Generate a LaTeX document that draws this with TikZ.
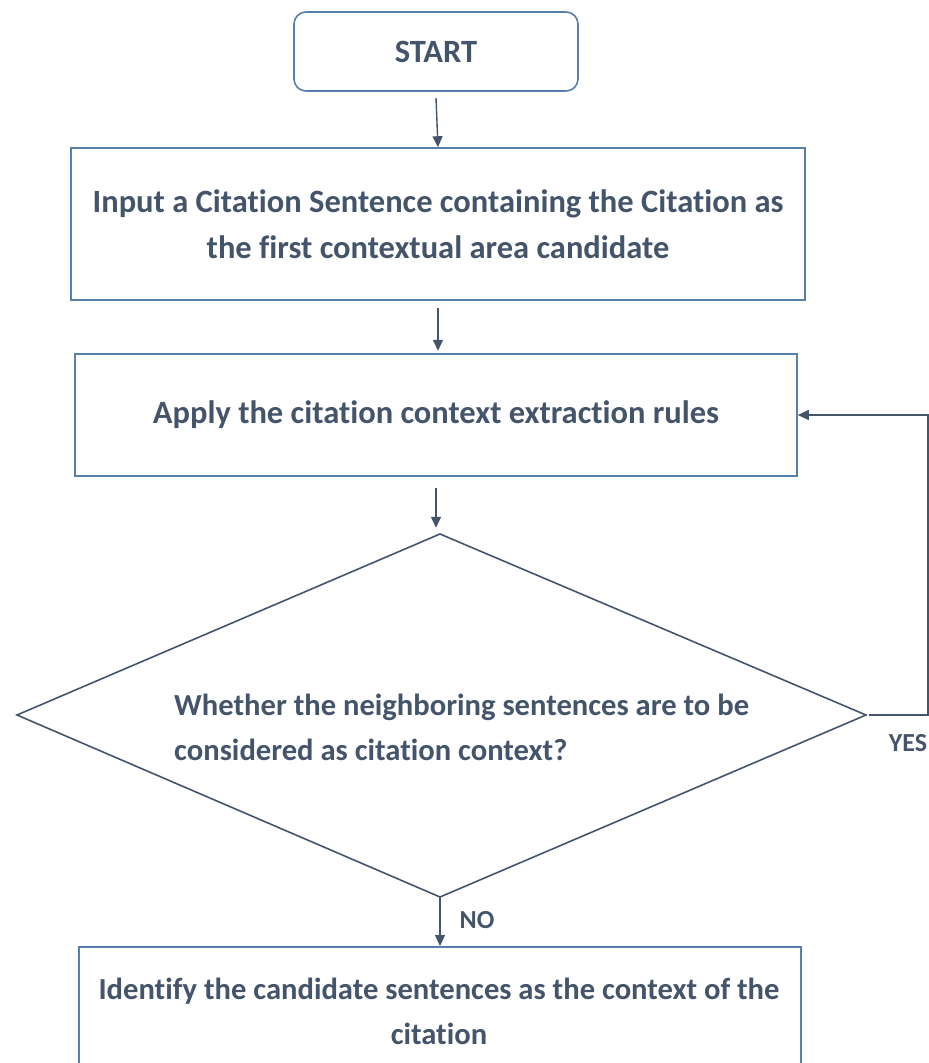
\documentclass[tikz,border=0pt]{standalone}
\usepackage{fontspec}
\setmainfont[Ligatures=NoCommon]{Carlito}
\usetikzlibrary{arrows.meta}
\definecolor{txt}{HTML}{44546A}
\definecolor{bord}{HTML}{5580AE}
\definecolor{arr}{HTML}{44546A}
\tikzset{
  mainfont/.style={font=\fontsize{32.5}{46}\selectfont\bfseries},
  smallfont/.style={font=\fontsize{30.6}{45}\selectfont\bfseries},
  box/.style={draw=bord, line width=1.6pt, minimum width=#1, inner sep=0pt, text=txt, align=center, mainfont},
  conn/.style={draw=arr, line width=1.4pt, -{Triangle[length=11pt,width=10pt]}},
  lbl/.style={text=txt, font=\fontsize{26}{30}\selectfont\bfseries, inner sep=0pt}
}
\begin{document}
\begin{tikzpicture}[x=1pt,y=-1pt]
\useasboundingbox (0,0) rectangle (929,1063);
\begin{scope}
\clip (0,0) rectangle (929,1063);
\node[box=284pt, minimum height=79pt, rounded corners=12pt] (start) at (436,51.5) {START};
\node[box=734pt, minimum height=152pt] (b1) at (438,224) {Input a Citation Sentence containing the Citation as\\the first contextual area candidate};
\node[box=722pt, minimum height=122pt] (b2) at (436,415) {Apply the citation context extraction rules};
\coordinate (dt) at (440,534);
\coordinate (dl) at (17,715);
\coordinate (dr) at (866,715);
\coordinate (db) at (440,897);
\draw[arr, line width=1.6pt, line join=miter] (dt) -- (dr) -- (db) -- (dl) -- cycle;
\node[anchor=west, align=left, text=txt, inner sep=0pt, smallfont] (q) at (174,727) {Whether the neighboring sentences are to be\\considered as citation context?};
\node[box=722pt, minimum height=130pt, anchor=north] (b3) at (440,946) {};
\node[text=txt, align=center, inner sep=0pt, smallfont] (b3t) at (439,1011) {Identify the candidate sentences as the context of the\\citation};
\coordinate (y1) at (928,715);
\coordinate (y2) at (928,415);
\draw[conn] (start.south) ++(0,6) -- (b1.north);
\draw[conn] (b1.south) ++(0,7) -- ++(0,43);
\draw[conn] (b2.south) ++(0,11) -- ++(0,40);
\draw[conn] (db) -- (b3.north);
\draw[conn] (dr) ++(3,0) -- (y1) -- (y2) -- (b2.east);
\node[lbl] (yes) at (908,743) {YES};
\node[lbl] (no) at (477,920) {NO};
\end{scope}
\end{tikzpicture}
\end{document}
